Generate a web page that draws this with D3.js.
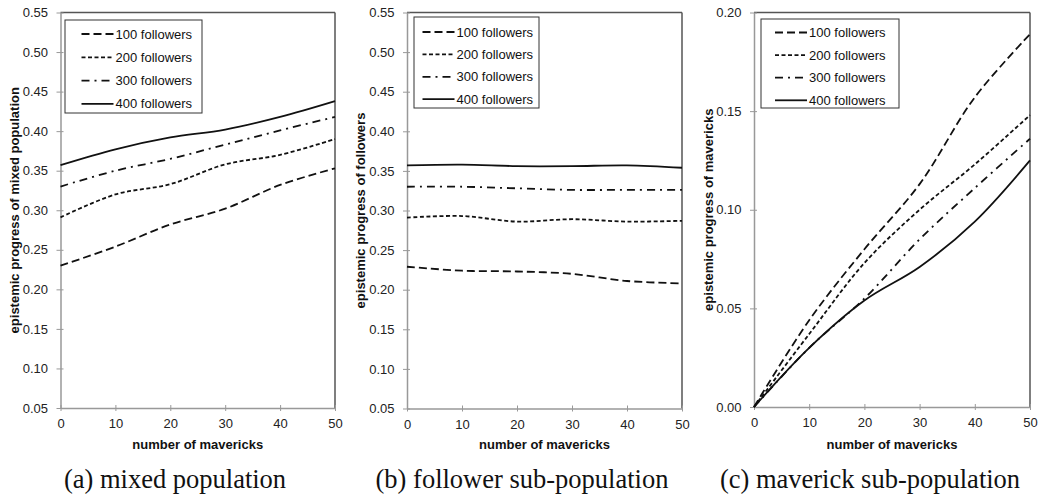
<!DOCTYPE html>
<html>
<head>
<meta charset="utf-8">
<script src="https://cdn.jsdelivr.net/npm/d3@7"></script>
<style>
  html, body { margin: 0; padding: 0; background: #fff; }
  svg { display: block; }
  .tick text { font-family: "Liberation Sans", Arial, sans-serif; font-size: 13px; fill: #222; }
  .axis-title { font-family: "Liberation Sans", Arial, sans-serif; font-size: 13px; font-weight: bold; fill: #111; }
  .legend text { font-family: "Liberation Sans", Arial, sans-serif; font-size: 13px; fill: #111; }
  .caption { font-family: "Liberation Serif", "Times New Roman", serif; font-size: 26.5px; fill: #111; }
</style>
</head>
<body>
<svg width="1042" height="499"></svg>
<script>
const mavericks = [0, 10, 20, 30, 40, 50];
const seriesNames = ["100 followers", "200 followers", "300 followers", "400 followers"];

// (a) mixed population
const mixed100 = [0.230, 0.254, 0.282, 0.302, 0.332, 0.353];
const mixed200 = [0.291, 0.320, 0.333, 0.358, 0.370, 0.390];
const mixed300 = [0.330, 0.350, 0.365, 0.383, 0.401, 0.418];
const mixed400 = [0.357, 0.377, 0.392, 0.402, 0.418, 0.438];

// (b) follower sub-population
const follow100 = [0.229, 0.224, 0.223, 0.220, 0.211, 0.208];
const follow200 = [0.291, 0.293, 0.286, 0.289, 0.286, 0.287];
const follow300 = [0.330, 0.330, 0.328, 0.326, 0.326, 0.326];
const follow400 = [0.357, 0.358, 0.356, 0.356, 0.357, 0.354];

// (c) maverick sub-population
const mav100 = [0, 0.044, 0.080, 0.113, 0.157, 0.189];
const mav200 = [0, 0.037, 0.073, 0.100, 0.123, 0.148];
const mav300 = [0, 0.030, 0.055, 0.085, 0.111, 0.136];
const mav400 = [0, 0.030, 0.054, 0.071, 0.094, 0.125];

const xTicks = [0, 10, 20, 30, 40, 50];
const yTicksAB = [0.05, 0.10, 0.15, 0.20, 0.25, 0.30, 0.35, 0.40, 0.45, 0.50, 0.55];
const yTicksC = [0.00, 0.05, 0.10, 0.15, 0.20];

// dash styles per series: long dash, short dash, dash-dot, solid
const dashes = ["8,4", "4,2.5", "8,5,2,5", null];

const svg = d3.select("svg");

const panels = [
    {
        series: [mixed100, mixed200, mixed300, mixed400],
        yDomain: [0.05, 0.55], yTicks: yTicksAB,
        left: 60.5, right: 335, top: 12.5, bottom: 408,
        yTitle: "epistemic progress of mixed population", yTitleX: 14,
        legend: { x: 65, y: 20, w: 137, h: 93, sx: 81.5, ry: 34, step: 23.3 },
        caption: "(a) mixed population", capX: 175
    },
    {
        series: [follow100, follow200, follow300, follow400],
        yDomain: [0.05, 0.55], yTicks: yTicksAB,
        left: 407, right: 682, top: 12.5, bottom: 408.5,
        yTitle: "epistemic progress of followers", yTitleX: 360,
        legend: { x: 414, y: 17, w: 125, h: 91, sx: 422.5, ry: 32, step: 22.4 },
        caption: "(b) follower sub-population", capX: 522
    },
    {
        series: [mav100, mav200, mav300, mav400],
        yDomain: [0, 0.20], yTicks: yTicksC,
        left: 754, right: 1030, top: 12.5, bottom: 407,
        yTitle: "epistemic progress of mavericks", yTitleX: 708,
        legend: { x: 761, y: 19, w: 138, h: 89, sx: 775, ry: 32.5, step: 22.6 },
        caption: "(c) maverick sub-population", capX: 870
    }
];

panels.forEach(drawPanel);

function drawPanel(p) {
    const x = d3.scaleLinear().domain([0, 50]).range([p.left, p.right]);
    const y = d3.scaleLinear().domain(p.yDomain).range([p.bottom, p.top]);
    const g = svg.append("g");

    // frame: top and right darker
    g.append("line")
        .attr("x1", p.left).attr("x2", p.right)
        .attr("y1", p.top).attr("y2", p.top)
        .attr("stroke", "#555").attr("stroke-width", 1.5);
    g.append("line")
        .attr("x1", p.right).attr("x2", p.right)
        .attr("y1", p.top).attr("y2", p.bottom)
        .attr("stroke", "#555").attr("stroke-width", 1.5);

    // axes
    const yAxis = g.append("g")
        .attr("transform", `translate(${p.left},0)`)
        .call(d3.axisLeft(y).tickValues(p.yTicks).tickFormat(d3.format(".2f"))
            .tickSizeInner(4).tickSizeOuter(0).tickPadding(8.5));
    const xAxis = g.append("g")
        .attr("transform", `translate(0,${p.bottom})`)
        .call(d3.axisBottom(x).tickValues(xTicks).tickFormat(d3.format("d"))
            .tickSizeInner(3).tickSizeOuter(0).tickPadding(8));

    [yAxis, xAxis].forEach(ax => {
        ax.select(".domain").attr("stroke", "#999").attr("stroke-width", 1.5);
        ax.selectAll(".tick line").attr("stroke", "#999").attr("stroke-width", 1);
    });
    yAxis.selectAll(".tick line").attr("x1", 3);
    xAxis.selectAll(".tick line").attr("y1", -3);

    // titles
    g.append("text")
        .attr("class", "axis-title")
        .attr("x", (p.left + p.right) / 2)
        .attr("y", 449)
        .attr("text-anchor", "middle")
        .text("number of mavericks");
    g.append("text")
        .attr("class", "axis-title")
        .attr("transform", `translate(${p.yTitleX},${(p.top + p.bottom) / 2}) rotate(-90)`)
        .attr("dy", "0.35em")
        .attr("text-anchor", "middle")
        .text(p.yTitle);

    // lines
    const line = d3.line()
        .x((d, i) => x(mavericks[i]))
        .y(d => y(d))
        .curve(d3.curveCatmullRom.alpha(0.5));

    p.series.forEach((vals, i) => {
        g.append("path")
            .datum(vals)
            .attr("d", line)
            .attr("fill", "none")
            .attr("stroke", "#111")
            .attr("stroke-width", 1.8)
            .attr("stroke-dasharray", dashes[i]);
    });

    // legend
    const L = p.legend;
    const lg = g.append("g").attr("class", "legend");
    lg.append("rect")
        .attr("x", L.x).attr("y", L.y)
        .attr("width", L.w).attr("height", L.h)
        .attr("fill", "#fff").attr("stroke", "#333").attr("stroke-width", 1);
    seriesNames.forEach((name, i) => {
        const ry = L.ry + i * L.step;
        lg.append("line")
            .attr("x1", L.sx).attr("x2", L.sx + 32)
            .attr("y1", ry).attr("y2", ry)
            .attr("stroke", "#111").attr("stroke-width", 1.8)
            .attr("stroke-dasharray", dashes[i]);
        lg.append("text")
            .attr("x", L.sx + 34)
            .attr("y", ry)
            .attr("dy", "0.35em")
            .text(name);
    });

    // caption
    svg.append("text")
        .attr("class", "caption")
        .attr("x", p.capX)
        .attr("y", 488)
        .attr("text-anchor", "middle")
        .text(p.caption);
}
</script>
</body>
</html>
